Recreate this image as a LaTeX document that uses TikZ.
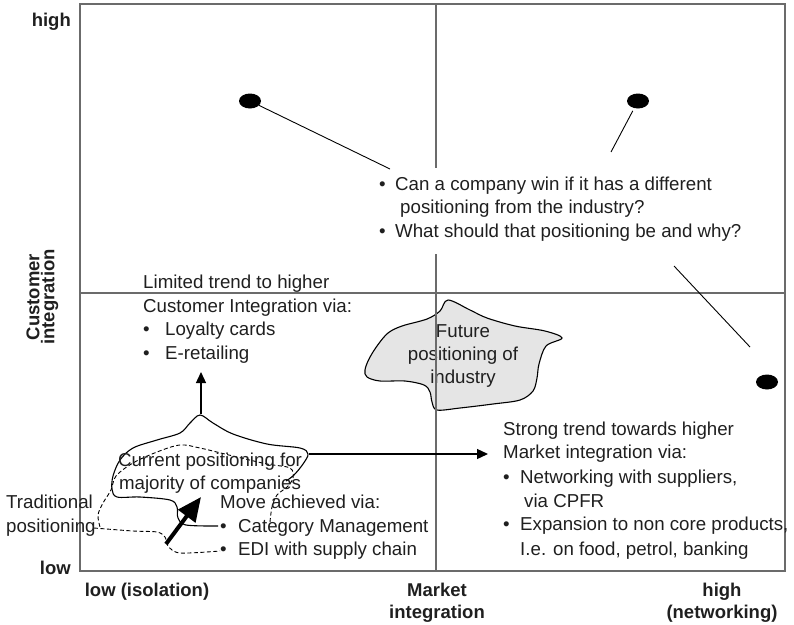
\documentclass[tikz,border=0pt]{standalone}
\usepackage{fontspec}
\setmainfont{Liberation Sans}
\usetikzlibrary{arrows.meta,shapes.geometric}
\definecolor{ink}{gray}{0.12}
\definecolor{rule}{gray}{0.42}
\definecolor{blobfill}{gray}{0.9}
\newcommand\bul[1]{\makebox[#1][l]{\textbullet}}

\begin{document}
\begin{tikzpicture}[x=1pt,y=-1pt,
  txt/.style={anchor=base west, inner sep=0pt, text=ink, font=\fontsize{18.7}{22}\selectfont},
  ctxt/.style={txt, anchor=base},
  axlab/.style={anchor=base, inner sep=0pt, text=ink, font=\fontsize{18.5}{22}\selectfont\bfseries},
  dot/.style={ellipse, fill=black, minimum width=22pt, minimum height=15pt, inner sep=0pt},
  lead/.style={draw=black, line width=0.9pt},
  quad/.style={draw=rule, line width=1.3pt},
  blob/.style={draw=black, line width=1.1pt},
  move/.style={blob, dashed, dash pattern=on 4pt off 2.5pt, line width=0.9pt},
  trend/.style={draw=black, line width=1.3pt, -{Triangle[length=11pt,width=10pt]}},
]
\useasboundingbox (0,0) rectangle (794,624);

% future positioning of the industry (drawn under the quadrant lines)
\draw[blob, fill=blobfill] plot[smooth cycle, tension=0.55] coordinates {
  (448,300) (470,310) (487,318) (515,326) (545,331) (562,338) (546,346)
  (539,364) (537,378) (533,391) (520,400) (493,404) (460,408) (437,410)
  (432,402) (430,392) (424,385) (405,381) (380,381) (367,377) (365,370)
  (369,359) (377,346) (388,333) (402,326) (427,319) (440,311)};
\node[ctxt] (f1) at (463,337) {Future};
\node[ctxt] (f2) at (463,360) {positioning of};
\node[ctxt] (f3) at (463,383) {industry};

% frame and quadrant lines
\draw[quad] (80,4) rectangle (785,571);
\coordinate (vt) at (436,4);   \coordinate (vg1) at (436,168);
\coordinate (vg2) at (436,254); \coordinate (vb) at (436,571);
\coordinate (hl) at (80,293);  \coordinate (hr) at (785,293);
\draw[quad] (vt) -- (vg1) (vg2) -- (vb) (hl) -- (hr);

% axis labels
\node[axlab, anchor=base east] (yhi) at (71,26) {high};
\node[axlab, anchor=base east] (ylo) at (71,574) {low};
\node[axlab, anchor=center, rotate=90, align=center,
      font=\fontsize{18.5}{15}\selectfont\bfseries] (ylab) at (42.5,297) {Customer\\integration};
\node[axlab] (xlo) at (147,596) {low (isolation)};
\node[axlab] (xm1) at (437,596) {Market};
\node[axlab] (xm2) at (437,618) {integration};
\node[axlab] (xh1) at (722,596) {high};
\node[axlab] (xh2) at (722,618) {(networking)};

% competitor positions and the open questions
\node[dot] (d1) at (250,101) {};
\node[dot] (d2) at (638,101) {};
\node[dot] (d3) at (767,382) {};
\node[txt] (q1) at (379,190) {\bul{16pt}Can a company win if it has a different};
\node[txt] (q2) at (400,213) {positioning from the industry?};
\node[txt] (q3) at (379,237) {\bul{16pt}What should that positioning be and why?};
\coordinate (q1a) at (390,169);
\coordinate (q2a) at (611,152);
\coordinate (q3a) at (674,266);
\coordinate (q3b) at (750,347);
\draw[lead] (d1) -- (q1a);
\draw[lead, shorten <=3pt] (d2) -- (q2a);
\draw[lead] (q3a) -- (q3b);

% customer integration trend
\node[txt] (c1) at (143,288) {Limited trend to higher};
\node[txt] (c2) at (143,312) {Customer Integration via:};
\node[txt] (c3) at (143,335) {\bul{22pt}Loyalty cards};
\node[txt] (c4) at (143,359) {\bul{22pt}E-retailing};

% market integration trend
\node[txt] (m1) at (503,435) {Strong trend towards higher};
\node[txt] (m2) at (503,458) {Market integration via:};
\node[txt] (m3) at (503,483) {\bul{17pt}Networking with suppliers,};
\node[txt] (m4) at (524,507) {via CPFR};
\node[txt] (m5) at (503,530) {\bul{17pt}Expansion to non core products,};
\node[txt] (m6) at (520,555) {I.e. on food, petrol, banking};

% current positioning (solid outline)
\draw[blob] plot[smooth, tension=0.55] coordinates {
  (218,526) (186,525) (178,518) (177,507) (170,500) (140,497) (117,497)
  (112,489) (113,476) (120,460) (133,448) (157,440) (180,433) (190,423)
  (200,415) (213,423) (233,434) (267,444) (300,448) (308,454) (303,464)
  (294,475) (286,481)};
% traditional positioning (dashed outline)
\draw[move] plot[smooth, tension=0.55] coordinates {
  (270,522) (272,507) (277,495) (287,487) (293,478) (290,468) (267,464)
  (233,456) (200,448) (180,445) (157,452) (133,463) (116,476) (111,490)
  (103,503) (98,515) (100,527)};
\draw[move] plot[smooth, tension=0.5] coordinates {
  (94,528) (133,531) (157,532) (165,537) (168,546) (180,553) (220,551)};

\node[ctxt] (p1) at (210,466) {Current positioning for};
\node[ctxt] (p2) at (210,489) {majority of companies};
\node[txt] (t1) at (6,508) {Traditional};
\node[txt] (t2) at (6,532) {positioning};
\node[txt] (v1) at (220,508) {Move achieved via:};
\node[txt] (v2) at (220,532) {\bul{18pt}Category Management};
\node[txt] (v3) at (220,555) {\bul{18pt}EDI with supply chain};

% trend arrows
\coordinate (up0) at (201,414);  \coordinate (up1) at (201,372);
\coordinate (rt0) at (309,454);  \coordinate (rt1) at (488,454);
\coordinate (mv0) at (166,544);  \coordinate (mv1) at (201,497);
\draw[trend] (up0) -- (up1);
\draw[trend] (rt0) -- (rt1);
\draw[draw=black, line width=4pt, -{Triangle[length=24pt,width=21pt]}] (mv0) -- (mv1);
\end{tikzpicture}
\end{document}
